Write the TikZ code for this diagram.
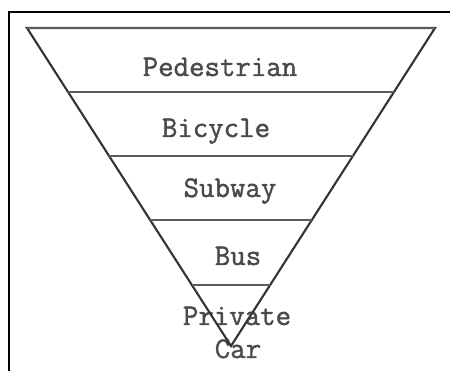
\documentclass[tikz,border=0pt]{standalone}
\usepackage{fontspec}
\usetikzlibrary{calc}
\newfontfamily\lblfont[FakeBold=1.3]{Latin Modern Mono}
\definecolor{txtgray}{HTML}{4A4A4A}
\definecolor{linegray}{HTML}{333333}
\tikzset{
  lbl/.style={anchor=base, inner sep=0pt, text=txtgray, font=\fontsize{30}{30}\selectfont\lblfont},
  frameline/.style={line width=2.6pt, black},
  triline/.style={line width=2.1pt, linegray},
  band/.style={line width=2.2pt, linegray!80}
}
\begin{document}
\begin{tikzpicture}[x=1pt,y=-1pt]
\useasboundingbox (0,0) rectangle (450,371);
\fill[white] (0,0) rectangle (450,371);
% frame
\draw[frameline] (9,371) -- (9,12) -- (450,12);
% triangle corners
\coordinate (L) at (27,28);
\coordinate (R) at (435,28);
\coordinate (A) at (231,346);
% labels
\node[lbl] (ped) at (220,76) {Pedestrian};
\node[lbl] (bic) at (216,137) {Bicycle};
\node[lbl] (sub) at (230,197) {Subway};
\node[lbl] (bus) at (238,265) {Bus};
\node[lbl] (pri) at (237,325) {Private};
\node[lbl] (car) at (238,358) {Car};
% triangle
\draw[triline, line join=miter] (L) -- (R) -- (A) -- cycle;
\draw[band] (L) -- (R);
\foreach \t in {0.2013,0.4025,0.6038,0.8082}{
  \draw[band] ($(L)!\t!(A)$) -- ($(R)!\t!(A)$);
}
\end{tikzpicture}
\end{document}
